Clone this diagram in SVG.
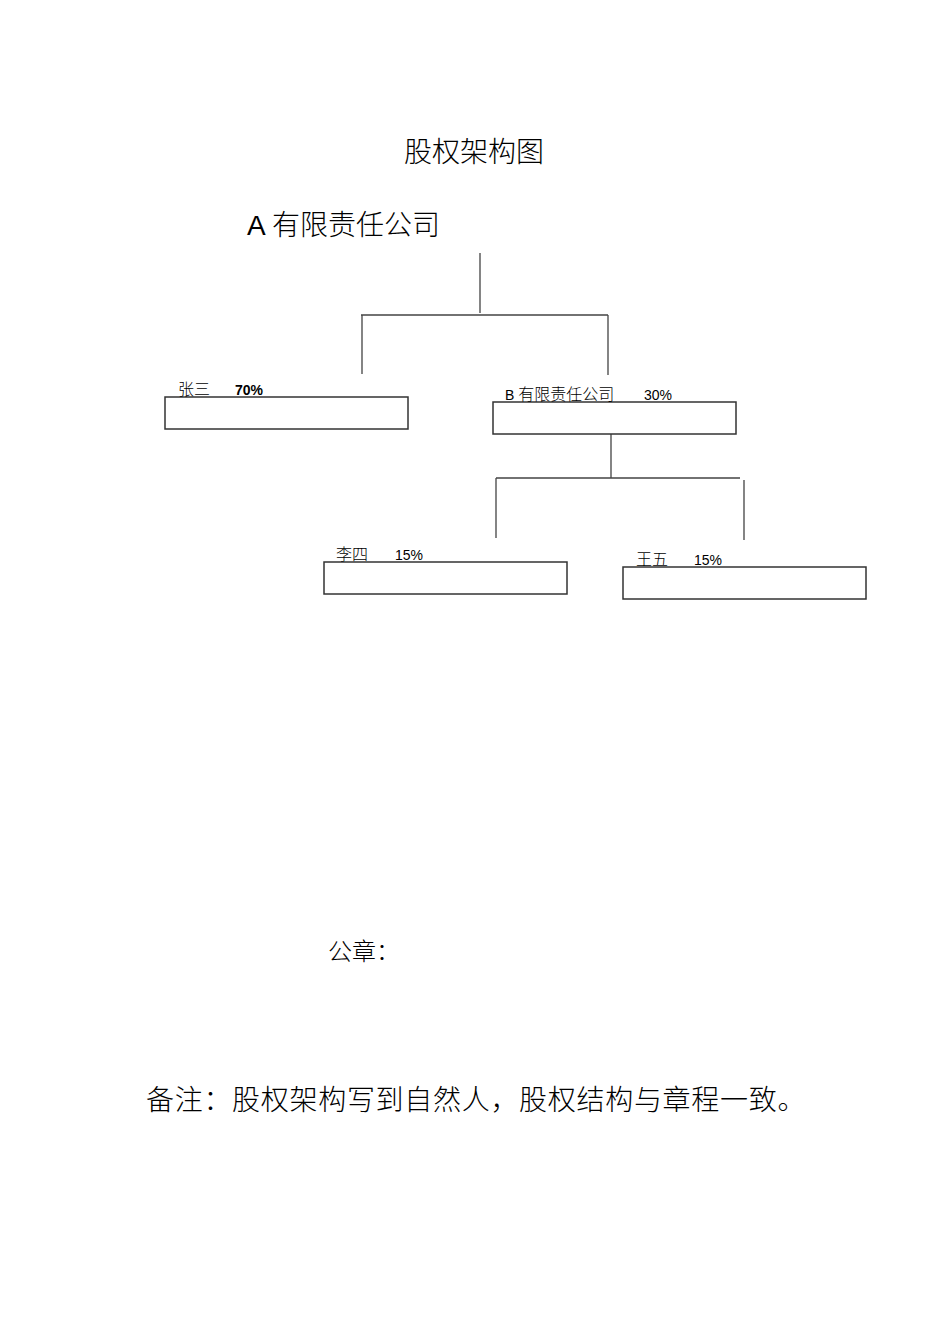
<svg xmlns="http://www.w3.org/2000/svg" width="950" height="1344" viewBox="0 0 950 1344">
<style>
text{font-family:"Liberation Sans","Noto Sans CJK SC",sans-serif;fill:#000}
.cjk{font-family:"Noto Sans CJK SC",sans-serif;font-weight:300}
.box{fill:#fff;stroke:#333;stroke-width:1.5}
.ln{stroke:#444;stroke-width:1.3;fill:none}
.lbl{font-size:14px}
.lc{font-size:16px}
</style>
<rect width="950" height="1344" fill="#fff"/>
<text class="cjk" x="404" y="162" font-size="28">股权架构图</text>
<g id="node-a">
<text x="247" y="235" font-size="28">A <tspan class="cjk">有限责任公司</tspan></text>
</g>
<g id="connectors">
<path class="ln" d="M480,253V313M361,315H608M362,315V374M608,315V375"/>
<path class="ln" d="M611,419V478M496,478H740M496,478V538M744,480V540"/>
</g>
<g id="node-zhangsan">
<rect class="box" x="165" y="397" width="243" height="32"/>
<text class="lbl" x="178" y="395"><tspan class="cjk lc">张三</tspan><tspan x="235" font-weight="bold">70%</tspan></text>
</g>
<g id="node-b">
<rect class="box" x="493" y="402" width="243" height="32"/>
<text class="lbl" x="505" y="400">B <tspan class="cjk lc">有限责任公司</tspan><tspan x="644">30%</tspan></text>
</g>
<g id="node-lisi">
<rect class="box" x="324" y="562" width="243" height="32"/>
<text class="lbl" x="336" y="560"><tspan class="cjk lc">李四</tspan><tspan x="395">15%</tspan></text>
</g>
<g id="node-wangwu">
<rect class="box" x="623" y="567" width="243" height="32"/>
<text class="lbl" x="636" y="565"><tspan class="cjk lc">王五</tspan><tspan x="694">15%</tspan></text>
</g>
<text class="cjk" x="328" y="960" font-size="24">公章：</text>
<text class="cjk" x="146" y="1110" font-size="28" letter-spacing="0.7">备注：股权架构写到自然人，股权结构与章程一致。</text>
</svg>
